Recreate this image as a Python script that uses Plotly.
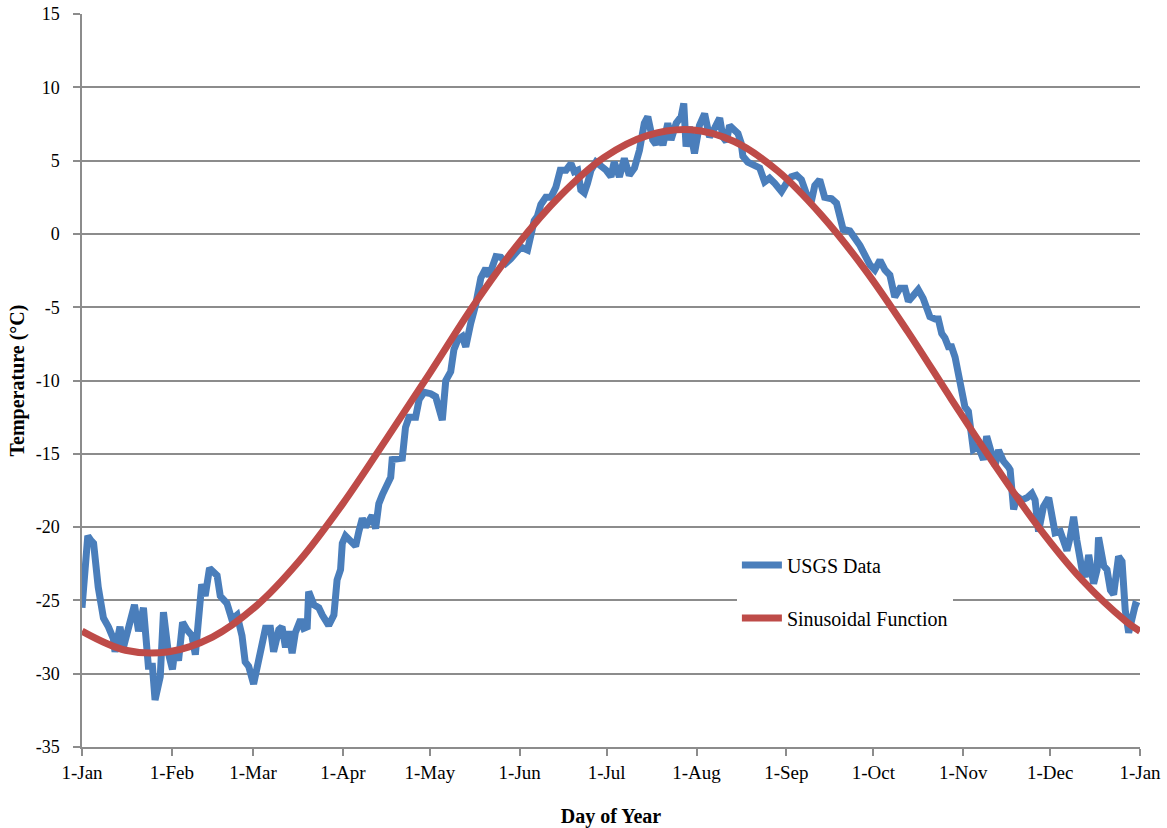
import plotly.graph_objects as go

# ---- data ----
usgs_day = [0, 1, 2, 3, 4, 5.6, 7.4, 9.1, 10.8, 11.4, 13.1, 14.3, 16, 18.1, 19.5, 21.2, 22.9, 24.3, 25.2, 27,
            28.1, 29.8, 31.2, 32.1, 33.3, 34.7, 36.2, 37.9, 39.1, 40.2, 41.3, 42.5, 44, 46.6, 47.7, 50, 51.7,
            53.5, 55.2, 56.3, 57.5, 59.2, 60.9, 63.3, 65, 66.1, 67.9, 69, 70.2, 71.3, 72.5, 73.6, 75.4, 76.5,
            77.7, 78.2, 80, 81.7, 82.9, 85.1, 86.9, 88, 89.2, 89.8, 90.9, 92.6, 94.4, 95.5, 96.7, 97.8, 99,
            100.1, 101.3, 102.4, 103.6, 105.3, 106.5, 107, 110.5, 111.6, 112.8, 115.1, 116.3, 118, 120.3, 122,
            124.3, 125.5, 127.2, 128.3, 129.7, 131.2, 132.4, 134.1, 135.8, 137.6, 139.3, 140.4, 142.8, 144.5,
            146.2, 147.9, 149.7, 151.4, 153.7, 156, 157.1, 158.3, 160, 161.8, 163.5, 165, 167, 168.7, 169.8,
            171, 172.1, 173.3, 174.4, 175.6, 177.3, 179, 180.8, 182.5, 183.6, 185.4, 187.1, 188.8, 190.6,
            192.3, 194, 195.2, 196.9, 198, 199.2, 200.4, 202.1, 203.2, 205, 206.7, 207.6, 208.4, 209.6, 211.3,
            213, 214.8, 216.5, 218.2, 220, 221.1, 222.3, 223.4, 224.6, 226.3, 227.4, 228, 229.7, 232, 233.8,
            235.5, 237.2, 239, 241.3, 243, 244.7, 246.5, 248.2, 249.9, 251.6, 252.8, 254.5, 256.2, 258.6,
            260.3, 261.4, 262.6, 264.9, 266.6, 268.4, 270.1, 271.8, 273.5, 275.3, 277.0, 278.7, 280.4, 282.2,
            283.9, 285.1, 286.8, 288.5, 290.2, 291.4, 292.5, 294.3, 295.4, 296.6, 297.7, 298.9, 300, 301.2,
            302.3, 303.5, 304.6, 305.8, 306.9, 307.5, 309.2, 311.0, 312.1, 313.9, 315.0, 316.2, 317.9, 319.6,
            320.2, 321.4, 322.5, 324.2, 326.0, 327.7, 328.8, 330.0, 331.7, 333.5, 334.6, 335.7, 337.5, 338.6,
            339.8, 340.9, 342.1, 343.2, 345.0, 346.1, 347.3, 349.0, 350.2, 350.7, 352.5, 353.6, 354.8, 355.9,
            357.6, 358.8, 359.9, 361.1, 362.3, 363.4, 364.6]
usgs_temp = [-25.5, -22.5, -20.6, -20.9, -21.1, -24.1, -26.2, -26.8, -27.6, -28.5, -26.8, -28.2, -26.8, -25.3,
             -27.1, -25.5, -29.5, -29.5, -31.8, -30.2, -25.8, -28.6, -29.7, -28.3, -29.1, -26.5, -27.0, -27.4,
             -28.7, -25.4, -23.9, -24.7, -22.8, -23.3, -24.7, -25.2, -26.3, -26.0, -27.4, -29.2, -29.5, -30.7,
             -29.1, -26.9, -26.9, -28.5, -27.0, -26.8, -28.2, -27.1, -28.6, -27.2, -26.3, -26.9, -26.8, -24.4,
             -25.3, -25.5, -26.0, -26.7, -26.0, -23.6, -22.9, -21.1, -20.6, -21.0, -21.3, -20.3, -19.4, -20.0,
             -19.5, -19.2, -20.1, -18.4, -17.8, -17.1, -16.6, -15.4, -15.3, -13.2, -12.5, -12.5, -11.3, -10.8,
             -10.9, -11.1, -12.7, -10.0, -9.4, -7.9, -7.2, -7.0, -7.7, -6.1, -4.85, -3.0, -2.35, -2.9, -1.55,
             -1.6, -2.0, -1.7, -1.2, -0.9, -1.1, 0.9, 1.2, 2.0, 2.5, 2.5, 3.2, 4.35, 4.35, 4.8, 4.25, 4.35, 3.0,
             2.8, 3.45, 4.35, 4.9, 4.7, 4.35, 3.9, 4.9, 3.9, 5.15, 4.0, 4.5, 5.7, 7.55, 8.0, 6.4, 6.1, 6.85,
             6.05, 7.55, 6.4, 7.55, 8.0, 8.9, 5.95, 7.3, 5.5, 7.4, 8.2, 6.6, 7.2, 7.9, 6.6, 6.3, 7.4, 7.1, 6.85,
             6.2, 5.3, 4.9, 4.6, 4.5, 3.55, 3.8, 3.45, 2.9, 3.45, 3.9, 4.0, 3.7, 2.75, 2.2, 3.3, 3.7, 2.5, 2.4,
             2.1, 1.3, 0.3, 0.2, -0.2, -0.8, -1.45, -2.1, -2.45, -1.8, -2.45, -2.8, -4.3, -3.7, -3.7, -4.6, -4.2,
             -3.8, -4.4, -5.0, -5.65, -5.8, -5.8, -6.8, -7.1, -7.7, -7.7, -8.4, -9.6, -11.1, -11.8, -12.1,
             -13.4, -14.7, -14.5, -15.4, -13.8, -15.2, -15.8, -14.75, -15.5, -15.9, -16.1, -18.8, -17.9, -18.15,
             -18.0, -17.7, -18.15, -20.3, -18.6, -18.0, -19.1, -20.4, -20.3, -20.9, -21.6, -20.7, -19.3, -20.9,
             -22.9, -23.4, -21.9, -23.85, -22.9, -20.7, -22.65, -22.9, -24.3, -24.6, -22.0, -22.35, -25.65,
             -27.2, -25.9, -25.3, -25.4]

sine_day = [0, 15, 30, 45, 60, 75, 90, 105, 120, 135, 150, 165, 180, 195, 210, 225, 240, 255, 270, 285,
            300, 315, 330, 345, 360, 365]
sine_temp = [-27.1, -28.4, -28.5, -27.5, -25.4, -22.3, -18.4, -14.0, -9.5, -4.9, -0.8, 2.6, 5.2, 6.7, 7.1,
             6.3, 4.3, 1.3, -2.4, -6.7, -11.3, -15.8, -20.0, -23.6, -26.4, -27.1]

month_ticks = [0, 31, 59, 90, 120, 151, 181, 212, 243, 273, 304, 334, 365]
month_labels = ["1-Jan", "1-Feb", "1-Mar", "1-Apr", "1-May", "1-Jun", "1-Jul", "1-Aug", "1-Sep",
                "1-Oct", "1-Nov", "1-Dec", "1-Jan"]
y_ticks = [15, 10, 5, 0, -5, -10, -15, -20, -25, -30, -35]
y_labels = ["15", "10", "5", "0", "-5", "-10", "-15", "-20", "-25", "-30", "-35"]

FONT = "Liberation Serif"
GRID = "#8c8c8c"

fig = go.Figure()
fig.add_trace(go.Scatter(x=usgs_day, y=usgs_temp, mode="lines", name="USGS Data", legendgroup="a",
                         line=dict(color="#4A7EBB", width=7, shape="linear")))
fig.add_trace(go.Scatter(x=sine_day, y=sine_temp, mode="lines", name="Sinusoidal Function", legendgroup="b",
                         line=dict(color="#BE4B48", width=7, shape="spline", smoothing=1.0)))

fig.update_layout(
    width=1167, height=828,
    margin=dict(l=82, r=27, t=14, b=81, autoexpand=False),
    paper_bgcolor="white", plot_bgcolor="white",
    font=dict(family=FONT, size=18, color="black"),
    showlegend=True,
    legend=dict(x=0.619, y=0.275, xanchor="left", yanchor="top", bgcolor="white",
                borderwidth=0, font=dict(family=FONT, size=20, color="black"),
                traceorder="grouped", tracegroupgap=24, itemwidth=40,
                entrywidth=215),
    xaxis=dict(range=[0, 365], tickmode="array", tickvals=month_ticks, ticktext=month_labels,
               automargin=False,
               showgrid=False, zeroline=False, showline=True, linecolor=GRID, linewidth=1.5,
               ticks="outside", ticklen=7, tickcolor=GRID, tickwidth=1.5,
               tickfont=dict(family=FONT, size=19),
               title=dict(text="<b>Day of Year</b>", font=dict(family=FONT, size=20), standoff=36)),
    yaxis=dict(range=[-35, 15], tickmode="array", tickvals=y_ticks, ticktext=y_labels,
               automargin=False, ticklabelstandoff=10,
               showgrid=True, gridcolor=GRID, gridwidth=1.5, zeroline=False,
               showline=True, linecolor=GRID, linewidth=1.5,
               ticks="outside", ticklen=7, tickcolor=GRID, tickwidth=1.5,
               tickfont=dict(family=FONT, size=18),
               title=dict(text="<b>Temperature (°C)</b>", font=dict(family=FONT, size=20), standoff=6)),
)

fig.write_html("out.html")
